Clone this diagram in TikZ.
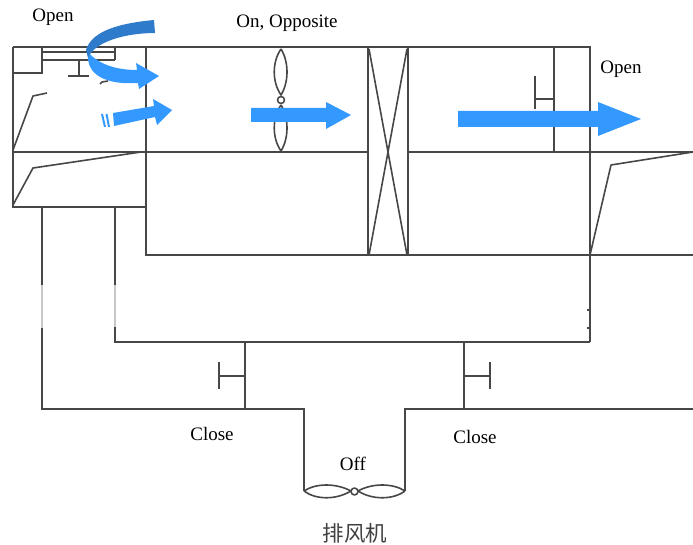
\documentclass[tikz,border=0pt]{standalone}
\usepackage{fontspec}
\setmainfont{Liberation Serif}
\newfontfamily\cjk{Noto Sans CJK SC}
\definecolor{flowblue}{HTML}{3399FF}
\definecolor{flowdark}{HTML}{2E7BCB}
\tikzset{
  wall/.style={draw=black!72,line width=1.8pt},
  blade/.style={draw=black!72,line width=1.6pt,line join=round},
  fadedwall/.style={draw=black!22,line width=1.8pt},
  lbl/.style={inner sep=0pt,font=\fontsize{19}{22}\selectfont,text=black},
  flow/.style={fill=flowblue,draw=none},
}
\begin{document}
\begin{tikzpicture}[x=1pt,y=-1pt]
\useasboundingbox (0,0) rectangle (693,545);
% main walls
\draw[wall] (13,47) -- (590,47) -- (590,342);
\draw[wall] (13,47) -- (13,207) -- (146,207);
\draw[wall] (146,47) -- (146,255) -- (693,255);
\draw[wall] (13,152) -- (368,152);
\draw[wall] (408,152) -- (693,152);
\draw[wall] (368,47) -- (368,255);
\draw[wall] (408,47) -- (408,255);
% ducts
\draw[wall] (42,207) -- (42,409) -- (304,409) -- (304,491);
\draw[wall] (115,207) -- (115,342) -- (590,342);
\draw[fadedwall] (42,285) -- (42,328);
\draw[fadedwall] (115,285) -- (115,327);
\draw[wall,line width=1.2pt] (587,310) -- (590,310) (587,328) -- (590,328);
\draw[wall] (245,342) -- (245,409);
\draw[wall] (464,342) -- (464,409);
\draw[wall] (405,491) -- (405,409) -- (693,409);
% duct dampers
\draw[wall] (245,376) -- (219,376) (219,362) -- (219,389);
\draw[wall] (464,376) -- (490,376) (490,362) -- (490,389);
% top-left box and damper
\draw[wall] (42,47) -- (42,73) -- (13,73);
\draw[wall] (42,52) -- (115,52) (42,60) -- (115,60) (115,47) -- (115,60);
\draw[wall] (79,60) -- (79,76) (68,76) -- (89,76);
\draw[blade] (100,84) -- (102,82) -- (108,81);
\draw[blade] (13,150) -- (33,96) -- (47,93);
\draw[blade] (13,205) -- (33,168) -- (141,152);
% right blades
\draw[blade] (590,255) -- (611,165) -- (693,152);
\draw[wall] (554,47) -- (554,152);
\draw[wall] (554,99) -- (535,99) (535,76) -- (535,109);
% supply fan
\draw[blade] (281,49) .. controls (272,62) and (272,82) .. (281,95) .. controls (289,82) and (289,62) .. (281,49);
\draw[blade] (281,105) .. controls (272,118) and (272,138) .. (281,151) .. controls (289,138) and (289,118) .. (281,105);
\draw[blade] (281,100) circle (3.5);
% coil
\draw[blade] (369,49) -- (407,255) (407,49) -- (369,255);
% exhaust fan
\draw[blade] (304,491) .. controls (316,483) and (336,483) .. (351,491) .. controls (336,500) and (316,500) .. (304,491);
\draw[blade] (405,491) .. controls (393,483) and (372,483) .. (358,491) .. controls (372,500) and (393,500) .. (405,491);
\draw[blade] (354.5,491.5) circle (3.5);
% flow arrows
\fill[flow] (251,108) -- (326,108) -- (326,102) -- (351,115) -- (326,129) -- (326,122) -- (251,122) -- cycle;
\fill[flow] (458,111) -- (598,111) -- (598,102) -- (641,119) -- (598,136) -- (598,127) -- (458,127) -- cycle;
\fill[flow] (113,113) -- (154,106) -- (153,99) -- (172,110) -- (157,125) -- (155,117) -- (114,126) -- cycle;
\fill[flow] (101,114) -- (103,114) -- (106,127) -- (104,127) -- cycle;
\fill[flow] (105.5,114) -- (107.5,114) -- (110,127) -- (108,127) -- cycle;
\fill[flow] (87,51) .. controls (96,62) and (112,70) .. (137,70) -- (136,63) -- (159,76) -- (139,89) -- (138,83)
   .. controls (108,85) and (88,76) .. (88,57) -- cycle;
\fill[flowdark] (154,20) .. controls (122,23) and (92,30) .. (86,50) -- (88,58) .. controls (94,42) and (125,33) .. (155,33) -- cycle;
% labels
\node[lbl] (open1) at (53,17) {Open};
\node[lbl] (onopp) at (287,23) {On, Opposite};
\node[lbl] (open2) at (621,69) {Open};
\node[lbl] (close1) at (212,434) {Close};
\node[lbl] (close2) at (475,437) {Close};
\node[lbl] (off) at (353,464) {Off};
\node[inner sep=0pt,text=black!75] (fanname) at (355,533) {\cjk\fontsize{21.5}{24}\selectfont 排风机};
\end{tikzpicture}
\end{document}
